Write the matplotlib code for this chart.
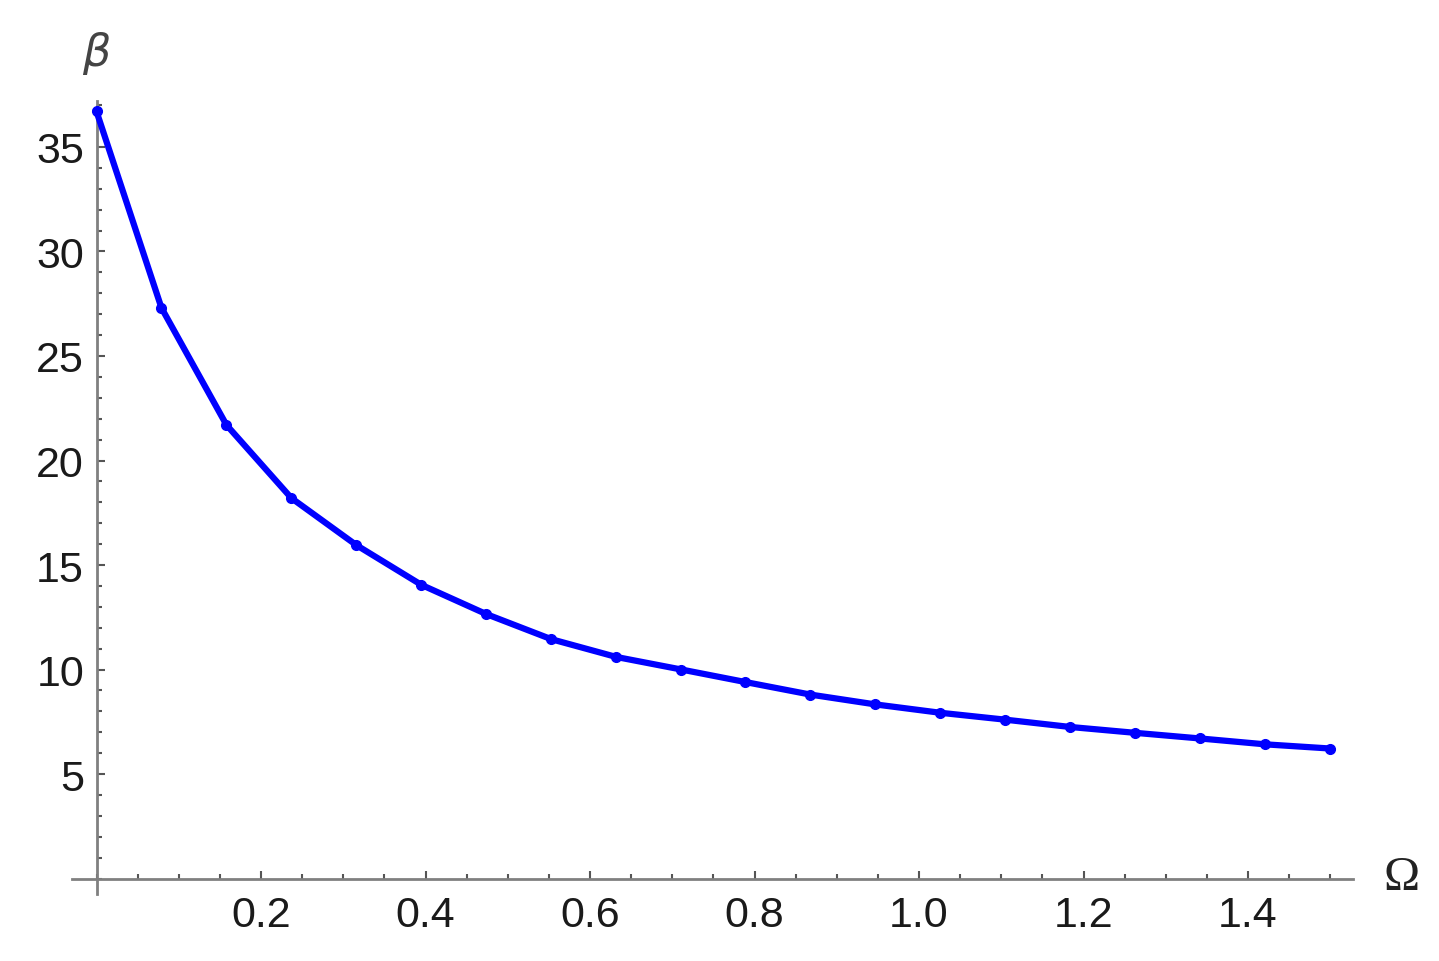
import matplotlib
matplotlib.use("Agg")
import matplotlib.pyplot as plt
from matplotlib.ticker import MultipleLocator, FixedLocator

# Data
omega = [0.0, 0.079, 0.158, 0.237, 0.316, 0.395, 0.474, 0.553, 0.632, 0.711,
         0.789, 0.868, 0.947, 1.026, 1.105, 1.184, 1.263, 1.342, 1.421, 1.5]
beta = [36.7, 27.3, 21.7, 18.2, 15.95, 14.05, 12.65, 11.45, 10.6, 10.0,
        9.4, 8.8, 8.33, 7.93, 7.6, 7.25, 6.97, 6.7, 6.42, 6.22]

x_major = [0.2, 0.4, 0.6, 0.8, 1.0, 1.2, 1.4]
x_labels = ["0.2", "0.4", "0.6", "0.8", "1.0", "1.2", "1.4"]
y_major = [5, 10, 15, 20, 25, 30, 35]
y_labels = ["5", "10", "15", "20", "25", "30", "35"]

fig = plt.figure(figsize=(14.39, 9.62), dpi=100)
ax = fig.add_axes([72 / 1439, 1 - 895 / 962, (1353 - 72) / 1439, (895 - 102) / 962])

ax.plot(omega, beta, color="#0000ff", lw=4.5, marker="o", ms=7,
        solid_joinstyle="round", clip_on=False, zorder=5)

ax.set_xlim(-0.0298, 1.5276)
ax.set_ylim(-0.74, 37.2)

axis_col = "#808080"
for s in ["top", "right"]:
    ax.spines[s].set_visible(False)
ax.spines["left"].set_position(("data", 0))
ax.spines["bottom"].set_position(("data", 0))
for s in ["left", "bottom"]:
    ax.spines[s].set_color(axis_col)
    ax.spines[s].set_linewidth(2.0)

ax.xaxis.set_major_locator(FixedLocator(x_major))
ax.set_xticklabels(x_labels)
ax.xaxis.set_minor_locator(MultipleLocator(0.05))
ax.yaxis.set_major_locator(FixedLocator(y_major))
ax.set_yticklabels(y_labels)
ax.yaxis.set_minor_locator(MultipleLocator(1))

ax.tick_params(which="both", direction="in", color="#555555", width=1.5)
ax.tick_params(which="major", length=6)
ax.tick_params(which="minor", length=3.5)
ax.tick_params(axis="x", which="major", pad=12, labelsize=31, labelcolor="#1a1a1a")
ax.tick_params(axis="y", which="major", pad=9, labelsize=31, labelcolor="#1a1a1a")
for lab in ax.get_xticklabels() + ax.get_yticklabels():
    lab.set_fontfamily("Liberation Sans")

ax.text(0, 39.5, r"$\beta$", ha="center", va="center", fontsize=32,
        family="DejaVu Serif", color="#444444", clip_on=False)
ax.text(1.587, 0.05, "Ω", ha="center", va="center", fontsize=35,
        family="Liberation Serif", color="#222222", clip_on=False)

fig.savefig("out.png", dpi=100, facecolor="white")
